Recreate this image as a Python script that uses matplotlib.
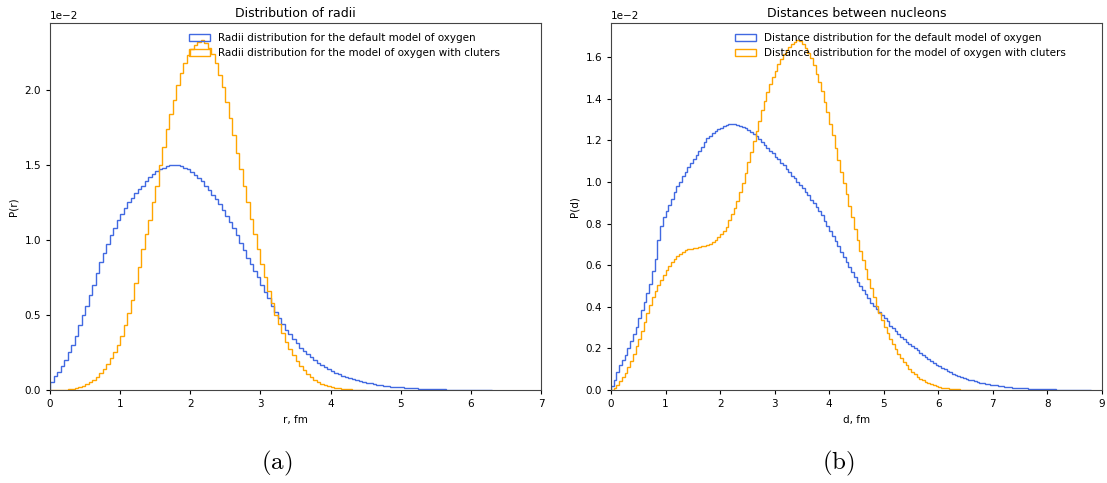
import matplotlib
matplotlib.use("Agg")
import matplotlib.pyplot as plt
import numpy as np

# histogram heights in units of 1e-2, bins of width BIN_W starting at 0
BIN_W = 0.05

radii_default = [
    0.05, 0.09, 0.12, 0.16, 0.20, 0.25, 0.30, 0.36, 0.43, 0.50,
    0.56, 0.63, 0.70, 0.78, 0.85, 0.91, 0.97, 1.03, 1.08, 1.13,
    1.17, 1.21, 1.25, 1.28, 1.31, 1.34, 1.36, 1.39, 1.42, 1.44,
    1.46, 1.47, 1.48, 1.49, 1.50, 1.50, 1.50, 1.49, 1.48, 1.47,
    1.45, 1.43, 1.41, 1.39, 1.36, 1.33, 1.30, 1.27, 1.24, 1.20,
    1.16, 1.12, 1.08, 1.03, 0.98, 0.93, 0.88, 0.84, 0.79, 0.75,
    0.70, 0.65, 0.61, 0.56, 0.52, 0.48, 0.44, 0.40, 0.37, 0.34,
    0.31, 0.28, 0.26, 0.24, 0.22, 0.20, 0.18, 0.165, 0.15, 0.14,
    0.125, 0.115, 0.105, 0.096, 0.088, 0.080, 0.072, 0.066, 0.060, 0.054,
    0.049, 0.044, 0.040, 0.036, 0.032, 0.029, 0.026, 0.023, 0.021, 0.019,
    0.017, 0.015, 0.013, 0.012, 0.010, 0.009, 0.008, 0.007, 0.006, 0.006,
    0.005, 0.004, 0.004, 0.003, 0.003, 0.003, 0.002, 0.002, 0.002, 0.002,
    0.001, 0.001, 0.001, 0.001, 0.001, 0.0,
]

radii_clusters = [
    0.000, 0.000, 0.001, 0.002, 0.003, 0.005, 0.008, 0.013, 0.020, 0.027,
    0.037, 0.050, 0.067, 0.087, 0.11, 0.14, 0.17, 0.21, 0.25, 0.30,
    0.36, 0.43, 0.51, 0.60, 0.71, 0.82, 0.94, 1.04, 1.13, 1.25,
    1.36, 1.50, 1.62, 1.74, 1.84, 1.93, 2.03, 2.11, 2.18, 2.23,
    2.27, 2.30, 2.32, 2.33, 2.31, 2.28, 2.24, 2.18, 2.10, 2.02,
    1.92, 1.81, 1.70, 1.58, 1.47, 1.36, 1.25, 1.14, 1.04, 0.94,
    0.84, 0.75, 0.66, 0.58, 0.50, 0.44, 0.38, 0.32, 0.27, 0.23,
    0.19, 0.16, 0.13, 0.105, 0.085, 0.068, 0.054, 0.042, 0.033, 0.026,
    0.020, 0.015, 0.011, 0.008, 0.006, 0.004, 0.003, 0.002, 0.001, 0.001,
]

dist_default = [
    0.02, 0.05, 0.085, 0.12, 0.145, 0.17, 0.20, 0.235, 0.27, 0.305,
    0.345, 0.385, 0.425, 0.465, 0.51, 0.57, 0.63, 0.72, 0.79, 0.83,
    0.86, 0.89, 0.92, 0.95, 0.98, 1.00, 1.03, 1.05, 1.07, 1.09,
    1.11, 1.13, 1.15, 1.17, 1.19, 1.21, 1.22, 1.235, 1.245, 1.255,
    1.26, 1.27, 1.275, 1.28, 1.28, 1.28, 1.275, 1.27, 1.265, 1.26,
    1.25, 1.24, 1.23, 1.22, 1.205, 1.19, 1.18, 1.165, 1.15, 1.14,
    1.12, 1.11, 1.09, 1.08, 1.06, 1.05, 1.03, 1.02, 1.00, 0.985,
    0.97, 0.95, 0.935, 0.915, 0.90, 0.88, 0.86, 0.84, 0.81, 0.79,
    0.765, 0.74, 0.715, 0.69, 0.665, 0.64, 0.615, 0.59, 0.565, 0.545,
    0.52, 0.50, 0.48, 0.46, 0.44, 0.42, 0.405, 0.39, 0.375, 0.36,
    0.345, 0.33, 0.31, 0.30, 0.285, 0.27, 0.255, 0.245, 0.23, 0.22,
    0.21, 0.20, 0.19, 0.18, 0.17, 0.16, 0.15, 0.14, 0.13, 0.122,
    0.114, 0.106, 0.099, 0.092, 0.085, 0.079, 0.073, 0.068, 0.063, 0.058,
    0.054, 0.050, 0.046, 0.042, 0.039, 0.036, 0.033, 0.030, 0.028, 0.026,
    0.024, 0.022, 0.020, 0.018, 0.016, 0.015, 0.014, 0.012, 0.011, 0.010,
    0.009, 0.008, 0.008, 0.007, 0.006, 0.006, 0.005, 0.005, 0.004, 0.004,
    0.003, 0.003, 0.003, 0.002, 0.002, 0.002, 0.002, 0.001, 0.001, 0.001,
    0.001, 0.001, 0.001, 0.001, 0.0, 0.0,
]

dist_clusters = [
    0.000, 0.008, 0.025, 0.043, 0.062, 0.083, 0.11, 0.14, 0.175, 0.21,
    0.245, 0.285, 0.325, 0.37, 0.41, 0.445, 0.475, 0.505, 0.53, 0.555,
    0.575, 0.595, 0.615, 0.63, 0.645, 0.655, 0.665, 0.672, 0.677, 0.68,
    0.682, 0.684, 0.686, 0.69, 0.694, 0.698, 0.704, 0.712, 0.722, 0.735,
    0.748, 0.765, 0.785, 0.815, 0.845, 0.875, 0.91, 0.95, 0.995, 1.045,
    1.095, 1.145, 1.195, 1.245, 1.295, 1.345, 1.39, 1.43, 1.47, 1.505,
    1.535, 1.565, 1.59, 1.615, 1.635, 1.65, 1.665, 1.675, 1.68, 1.678,
    1.665, 1.645, 1.62, 1.595, 1.56, 1.52, 1.48, 1.435, 1.385, 1.335,
    1.28, 1.225, 1.165, 1.105, 1.05, 0.995, 0.94, 0.885, 0.83, 0.775,
    0.72, 0.67, 0.625, 0.58, 0.535, 0.49, 0.445, 0.405, 0.37, 0.335,
    0.305, 0.275, 0.245, 0.22, 0.195, 0.175, 0.155, 0.135, 0.118, 0.102,
    0.088, 0.075, 0.064, 0.054, 0.046, 0.038, 0.032, 0.027, 0.022, 0.018,
    0.015, 0.012, 0.010, 0.008, 0.006, 0.005, 0.004, 0.003, 0.002, 0.002,
    0.001, 0.001, 0.001, 0.0, 0.0,
]

BLUE = "#4169e1"
ORANGE = "#ffa500"


def draw_hist(ax, vals, color, label):
    vals = np.asarray(vals) * 1e-2
    edges = np.arange(len(vals) + 1) * BIN_W
    centers = edges[:-1] + BIN_W / 2
    ax.hist(centers, bins=edges, weights=vals, histtype="step",
            color=color, linewidth=1.0, label=label)


plt.rcParams["font.family"] = "DejaVu Sans"
plt.rcParams["font.size"] = 7.5

fig = plt.figure(figsize=(11.07, 4.83), dpi=100)
ax1 = fig.add_axes([50 / 1107, 93 / 483, 491 / 1107, 367 / 483])
ax2 = fig.add_axes([611 / 1107, 93 / 483, 491 / 1107, 367 / 483])

draw_hist(ax1, radii_default, BLUE, "Radii distribution for the default model of oxygen")
draw_hist(ax1, radii_clusters, ORANGE, "Radii distribution for the model of oxygen with cluters")
draw_hist(ax2, dist_default, BLUE, "Distance distribution for the default model of oxygen")
draw_hist(ax2, dist_clusters, ORANGE, "Distance distribution for the model of oxygen with cluters")

ax1.set_xlim(0, 7)
ax2.set_xlim(0, 9)
ax1.set_title("Distribution of radii", fontsize=9, pad=4)
ax2.set_title("Distances between nucleons", fontsize=9, pad=4)
ax1.set_xlabel("r, fm")
ax1.set_ylabel("P(r)")
ax2.set_xlabel("d, fm")
ax2.set_ylabel("P(d)")

legend_x = {ax1: 0.283, ax2: 0.2525}
for ax in (ax1, ax2):
    ax.ticklabel_format(axis="y", style="sci", scilimits=(0, 0))
    ax.tick_params(labelsize=7.5, length=3)
    ax.legend(loc="upper left", bbox_to_anchor=(legend_x[ax], 0.972),
              frameon=False, fontsize=7.5, handlelength=2.0,
              borderaxespad=0, borderpad=0, labelspacing=0.5,
              handletextpad=0.8)
    for sp in ax.spines.values():
        sp.set_color("#444444")

fig.text(277 / 1107, 1 - 463 / 483, r"$\mathrm{(a)}$", fontsize=18,
         ha="center", va="center", math_fontfamily="cm")
fig.text(838 / 1107, 1 - 463 / 483, r"$\mathrm{(b)}$", fontsize=18,
         ha="center", va="center", math_fontfamily="cm")

fig.savefig("out.png", dpi=100)
